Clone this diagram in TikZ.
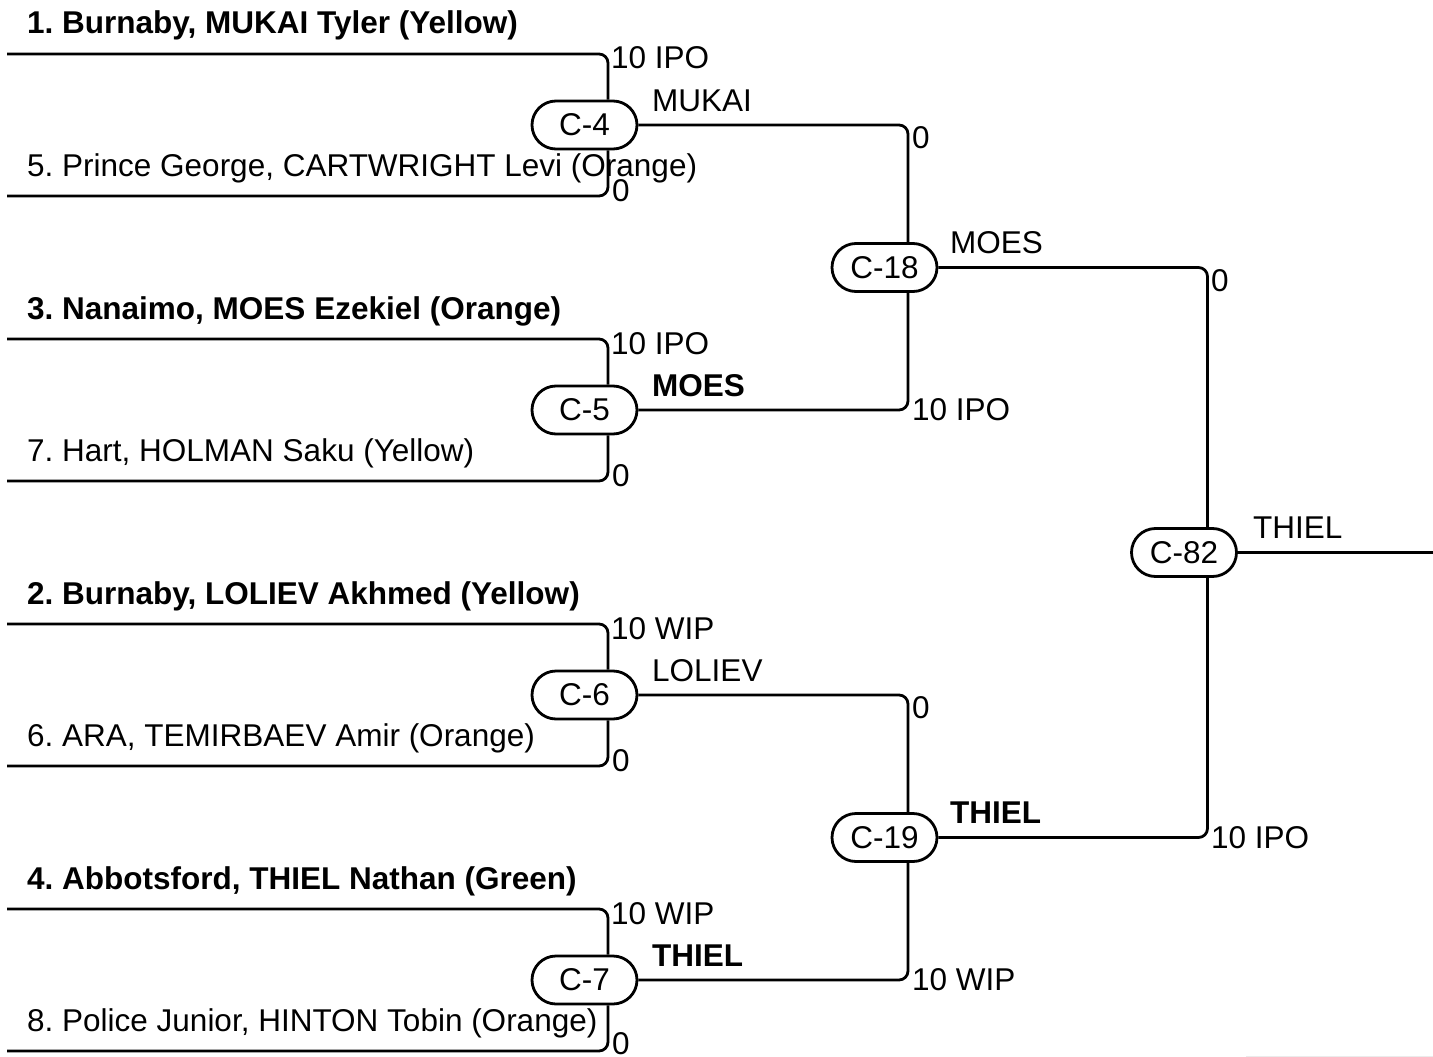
\documentclass[tikz,border=0pt]{standalone}
\usepackage{fontspec}
\setmainfont{Liberation Sans}
\usetikzlibrary{shapes.misc}
\frenchspacing
\begin{document}
\begin{tikzpicture}[x=1pt,y=-1pt,
  conn/.style={line width=2.8pt, rounded corners=9pt},
  match/.style={draw, line width=2.8pt, rounded rectangle, minimum width=105pt, minimum height=48pt, inner sep=0pt, font=\fontsize{31.5}{37}\selectfont},
  lbl/.style={inner sep=0pt, anchor=base west, font=\fontsize{31.5}{37}\selectfont},
  blbl/.style={inner sep=0pt, anchor=base west, font=\fontsize{31.5}{37}\selectfont\bfseries}]
\useasboundingbox (0,0) rectangle (1433,1057);

% entry line start points
\coordinate (e1) at (7,54);
\coordinate (e5) at (7,196);
\coordinate (e3) at (7,339);
\coordinate (e7) at (7,481);
\coordinate (e2) at (7,624);
\coordinate (e6) at (7,766);
\coordinate (e4) at (7,909);
\coordinate (e8) at (7,1051);
\coordinate (fin) at (1433,552.5);

% matches
\node[match] (c4) at (584.5,125) {C-4};
\node[match] (c5) at (584.5,410) {C-5};
\node[match] (c6) at (584.5,695) {C-6};
\node[match] (c7) at (584.5,980) {C-7};
\node[match] (c18) at (884.5,267.5) {C-18};
\node[match] (c19) at (884.5,837.5) {C-19};
\node[match] (c82) at (1184,552.5) {C-82};

% round 1 connectors
\draw[conn] (e1) -| ([xshift=23.5pt]c4.north);
\draw[conn] (e5) -| ([xshift=23.5pt]c4.south);
\draw[conn] (e3) -| ([xshift=23.5pt]c5.north);
\draw[conn] (e7) -| ([xshift=23.5pt]c5.south);
\draw[conn] (e2) -| ([xshift=23.5pt]c6.north);
\draw[conn] (e6) -| ([xshift=23.5pt]c6.south);
\draw[conn] (e4) -| ([xshift=23.5pt]c7.north);
\draw[conn] (e8) -| ([xshift=23.5pt]c7.south);

% round 2 connectors
\draw[conn] (c4.east) -| ([xshift=23.5pt]c18.north);
\draw[conn] (c5.east) -| ([xshift=23.5pt]c18.south);
\draw[conn] (c6.east) -| ([xshift=23.5pt]c19.north);
\draw[conn] (c7.east) -| ([xshift=23.5pt]c19.south);

% final connectors
\draw[conn] (c18.east) -| ([xshift=23.5pt]c82.north);
\draw[conn] (c19.east) -| ([xshift=23.5pt]c82.south);
\draw[conn] (c82.east) -- (fin);

% entry names
\node[blbl] (t1) at (27,34) {1. Burnaby, MUKAI Tyler (Yellow)};
\node[lbl]  (t5) at (27,176) {5. Prince George, CARTWRIGHT Levi (Orange)};
\node[blbl] (t3) at (27,319) {3. Nanaimo, MOES Ezekiel (Orange)};
\node[lbl]  (t7) at (27,461) {7. Hart, HOLMAN Saku (Yellow)};
\node[blbl] (t2) at (27,604) {2. Burnaby, LOLIEV Akhmed (Yellow)};
\node[lbl]  (t6) at (27,746) {6. ARA, TEMIRBAEV Amir (Orange)};
\node[blbl] (t4) at (27,889) {4. Abbotsford, THIEL Nathan (Green)};
\node[lbl]  (t8) at (27,1031) {8. Police Junior, HINTON Tobin (Orange)};

% round 1 scores
\node[lbl] (s4a) at (611,69) {10 IPO};
\node[lbl] (s4b) at (612,201) {0};
\node[lbl] (s5a) at (611,354) {10 IPO};
\node[lbl] (s5b) at (612,486) {0};
\node[lbl] (s6a) at (611,639) {10 WIP};
\node[lbl] (s6b) at (612,771) {0};
\node[lbl] (s7a) at (611,924) {10 WIP};
\node[lbl] (s7b) at (612,1054) {0};

% round 2 scores
\node[lbl] (s18a) at (912,148) {0};
\node[lbl] (s18b) at (912,420) {10 IPO};
\node[lbl] (s19a) at (912,718) {0};
\node[lbl] (s19b) at (912,990) {10 WIP};

% final scores
\node[lbl] (s82a) at (1211,291) {0};
\node[lbl] (s82b) at (1211,848) {10 IPO};

% winners
\node[lbl]  (w4) at (652,111) {MUKAI};
\node[blbl] (w5) at (652,396) {MOES};
\node[lbl]  (w6) at (652,681) {LOLIEV};
\node[blbl] (w7) at (652,966) {THIEL};
\node[lbl]  (w18) at (950,253) {MOES};
\node[blbl] (w19) at (950,823) {THIEL};
\node[lbl]  (w82) at (1253,538) {THIEL};

% faint edge line
\draw[black!8, line width=1pt] (1246,1056) -- (1433,1056);
\end{tikzpicture}
\end{document}
